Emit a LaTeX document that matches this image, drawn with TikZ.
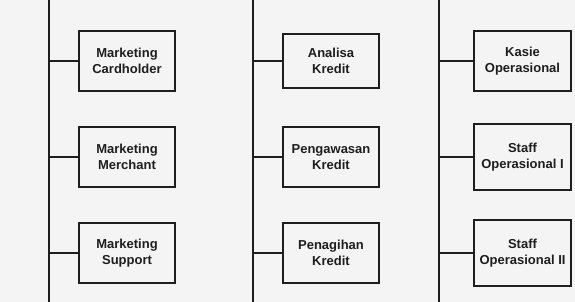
\documentclass[tikz,border=0pt]{standalone}
\usepackage{xcolor}
\usepackage{fontspec}
\setmainfont{Liberation Sans}
\usetikzlibrary{positioning,calc}
\definecolor{latar}{HTML}{F4F4F4}
\definecolor{garis}{HTML}{1E1E1E}

\begin{document}
\begin{tikzpicture}[x=1pt, y=-1pt, font=\bfseries\fontsize{13}{16}\selectfont,
    jabatan/.style={draw=garis, line width=1.4pt, text=garis, align=center,
      inner sep=0pt, minimum width=96pt, minimum height=60pt},
    hubung/.style={draw=garis, line width=1.3pt}]
    \useasboundingbox[fill=latar] (0,0) rectangle (575,302);
    % garis vertikal
    \coordinate (ka) at (49,0);   \coordinate (kb) at (49,302);
    \coordinate (kc) at (253,0);  \coordinate (kd) at (253,302);
    \coordinate (ke) at (439,0);  \coordinate (kf) at (439,302);
    \draw[hubung] (ka) -- (kb);
    \draw[hubung] (kc) -- (kd);
    \draw[hubung] (ke) -- (kf);
    % kolom pemasaran
    \node[jabatan] (mcard) at (127,61) {Marketing\\Cardholder};
    \node[jabatan] (mmerch) at (127,157) {Marketing\\Merchant};
    \node[jabatan] (msupp) at (127,253) {Marketing\\Support};
    % kolom kredit
    \node[jabatan, minimum height=54pt] (analisa) at (331,61) {Analisa\\Kredit};
    \node[jabatan] (awas) at (331,157) {Pengawasan\\Kredit};
    \node[jabatan] (tagih) at (331,253) {Penagihan\\Kredit};
    % kolom operasional
    \node[jabatan, minimum width=97pt] (kasie) at (522.5,61) {Kasie\\Operasional};
    \node[jabatan, minimum width=97pt, minimum height=66pt] (staf1) at (522.5,157) {Staff\\Operasional I};
    \node[jabatan, minimum width=97pt, minimum height=66pt] (staf2) at (522.5,253) {Staff\\Operasional II};
    % cabang
    \foreach \n in {mcard,mmerch,msupp}
      \draw[hubung] (\n.west) -- (\n.west -| ka);
    \foreach \n in {analisa,awas,tagih}
      \draw[hubung] (\n.west) -- (\n.west -| kc);
    \foreach \n in {kasie,staf1,staf2}
      \draw[hubung] (\n.west) -- (\n.west -| ke);
  \end{tikzpicture}
\end{document}
